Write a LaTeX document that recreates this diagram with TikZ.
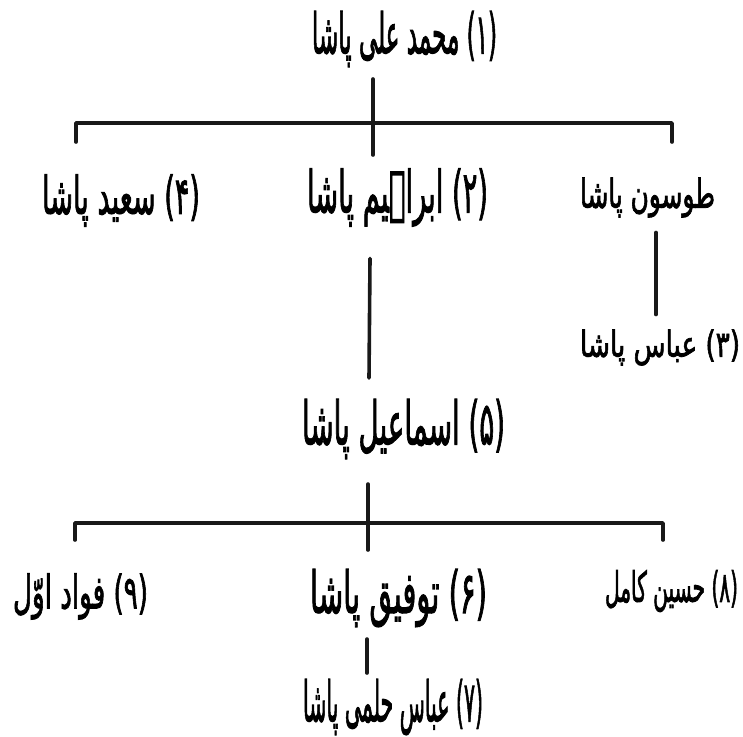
\documentclass[tikz,border=0pt]{standalone}
\usepackage{fontspec}
\usepackage{graphicx}
\TeXXeTstate=1
\newfontfamily\urdu[Script=Arabic,FakeBold=2.2]{DejaVu Sans}
\newcommand{\ur}[3]{\resizebox*{#1pt}{#2pt}{\urdu\fontsize{21}{25}\selectfont #3}}
\begin{document}
\begin{tikzpicture}[x=1pt,y=-1pt,
  lbl/.style={inner sep=0pt, outer sep=0pt},
  conn/.style={line width=3.6pt, color=black!90, line cap=round, line join=round}]
\useasboundingbox[fill=white] (0,0) rectangle (743,736);
% nodes
\node[lbl] (r)    at (404.5,39)  {\ur{185}{56}{\beginR (۱) محمد علی پاشا\endR}};
\node[lbl] (said) at (121,200.5) {\ur{158}{52}{\beginR (۴) سعید پاشا\endR}};
\node[lbl] (ibr)  at (397.5,197.5) {\ur{181}{58}{\beginR (۲) ابراہیم پاشا\endR}};
\node[lbl] (tus)  at (647.5,197.5) {\ur{135}{40}{\beginR طوسون پاشا\endR}};
\node[lbl] (abb)  at (660,347.5) {\ur{160}{36}{\beginR (۳) عباس پاشا\endR}};
\node[lbl] (ism)  at (403.5,429) {\ur{203}{60}{\beginR (۵) اسماعیل پاشا\endR}};
\node[lbl] (fuad) at (80.5,596.5)  {\ur{135}{46}{\beginR (۹) فواد اوّل\endR}};
\node[lbl] (tou)  at (398.5,598) {\ur{177}{58}{\beginR (۶) توفیق پاشا\endR}};
\node[lbl] (hus)  at (671.5,591) {\ur{133}{42}{\beginR (۸) حسین کامل\endR}};
\node[lbl] (hil)  at (393,707) {\ur{180}{56}{\beginR (۷) عباس حلمی پاشا\endR}};
% junctions
\coordinate (j1b) at (373,155);
\coordinate (l1)  at (76,123);
\coordinate (l1t) at (76,142);
\coordinate (r1)  at (672,123);
\coordinate (r1t) at (672,142);
\coordinate (j2b) at (368,550);
\coordinate (l2)  at (75,523);
\coordinate (l2t) at (75,540);
\coordinate (r2)  at (663,523);
\coordinate (r2t) at (663,540);
% connectors
\draw[conn] ([xshift=-31.5pt,yshift=-12pt]r.south) -- (j1b);
\draw[conn] (l1t) -- (l1) -- (r1) -- (r1t);
\draw[conn] ([xshift=-27.5pt,yshift=-32pt]ibr.south) -- ([xshift=-34.5pt,yshift=21pt]ism.north);
\draw[conn] ([xshift=8.5pt,yshift=-15pt]tus.south) -- ([xshift=-4pt,yshift=15pt]abb.north);
\draw[conn] ([xshift=-35.5pt,yshift=-25pt]ism.south) -- (j2b);
\draw[conn] (l2t) -- (l2) -- (r2) -- (r2t);
\draw[conn] ([xshift=-31.5pt,yshift=-12pt]tou.south) -- ([xshift=-26pt,yshift=6pt]hil.north);
\end{tikzpicture}
\end{document}
